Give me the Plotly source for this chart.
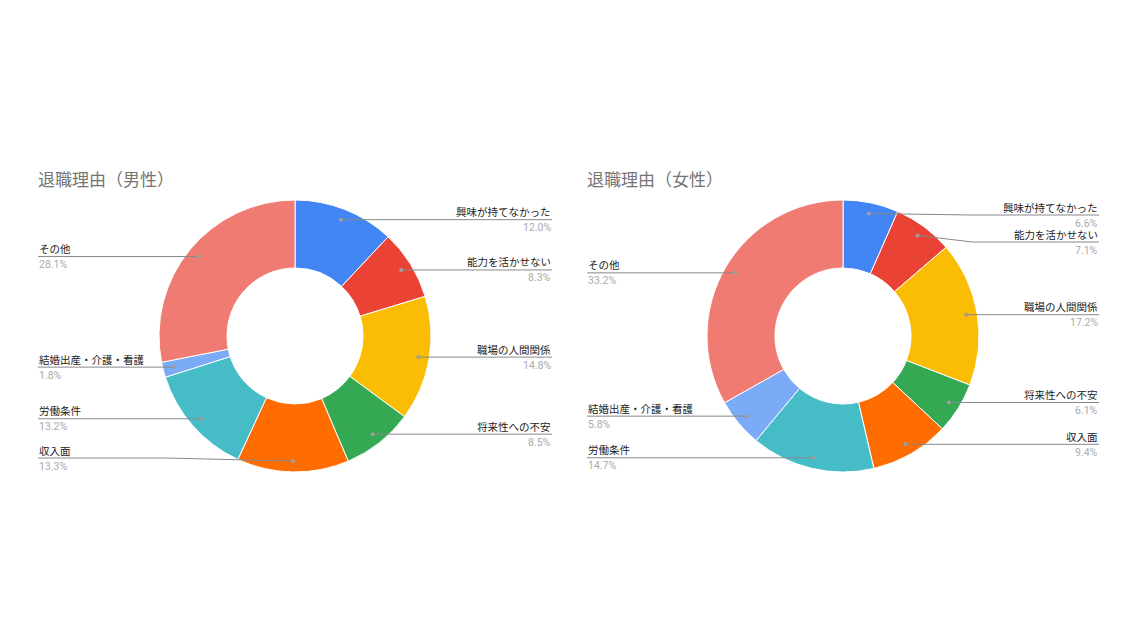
import math
import plotly.graph_objects as go

categories = ["興味が持てなかった", "能力を活かせない", "職場の人間関係", "将来性への不安",
              "収入面", "労働条件", "結婚出産・介護・看護", "その他"]
male_values = [12.0, 8.3, 14.8, 8.5, 13.3, 13.2, 1.8, 28.1]
female_values = [6.6, 7.1, 17.2, 6.1, 9.4, 14.7, 5.8, 33.2]
titles = ["退職理由（男性）", "退職理由（女性）"]
colors = ["#4285F4", "#EA4335", "#FBBC04", "#34A853", "#FF6D01", "#46BDC6", "#7BAAF7", "#F07B72"]

W, H = 1137, 640
OFF = 8  # page body margin
def px(x): return (x - OFF) / W
def py(y): return 1 - (y - OFF) / H

panels = [
    dict(values=male_values, title=titles[0], cx=295, cy=336, R=136, left=38, right=552),
    dict(values=female_values, title=titles[1], cx=843, cy=336, R=136, left=587, right=1099),
]

fig = go.Figure()
shapes, annotations = [], []
FONT = "Roboto, 'Noto Sans CJK JP', sans-serif"
SP = 27

for p in panels:
    cx, cy, R = p["cx"], p["cy"], p["R"]
    fig.add_trace(go.Pie(
        labels=categories, values=p["values"], sort=False, direction="clockwise",
        rotation=0, hole=0.5, textinfo="none", hoverinfo="label+percent",
        marker=dict(colors=colors, line=dict(color="white", width=1)),
        domain=dict(x=[px(cx - R), px(cx + R)], y=[py(cy + R), py(cy - R)]),
        showlegend=False,
    ))
    annotations.append(dict(text=p["title"], x=px(p["left"] - 1), y=py(180), xref="paper", yref="paper",
                            xanchor="left", yanchor="middle", showarrow=False, borderpad=0,
                            font=dict(size=17, color="#757575", family=FONT)))
    total = sum(p["values"])
    cum = 0
    items = []
    for name, v in zip(categories, p["values"]):
        mid = (cum + v / 2) / total * 2 * math.pi
        cum += v
        rd = 0.92 * R
        dx, dy = cx + rd * math.sin(mid), cy - rd * math.cos(mid)
        side = "right" if mid < math.pi else "left"
        ly = min(max(dy, cy - R + 15), cy + R - 14)
        items.append(dict(name=name, pct=v / total * 100, dx=dx, dy=dy, ly=ly, side=side))
    for side in ("right", "left"):
        grp = sorted([it for it in items if it["side"] == side], key=lambda it: it["ly"])
        for i in range(1, len(grp)):
            grp[i]["ly"] = max(grp[i]["ly"], grp[i - 1]["ly"] + SP)
        lim = cy + R - 14
        for i in range(len(grp) - 1, -1, -1):
            if grp[i]["ly"] > lim:
                grp[i]["ly"] = lim
            lim = grp[i]["ly"] - SP
    for it in items:
        ly = it["ly"]
        if it["side"] == "right":
            edge = p["right"]
            bend = max(cx + 0.95 * R, it["dx"]) if abs(ly - it["dy"]) > 1 else it["dx"]
            xa = "right"
        else:
            edge = p["left"]
            bend = min(cx - 0.95 * R, it["dx"]) if abs(ly - it["dy"]) > 1 else it["dx"]
            xa = "left"
        path = f"M {px(edge)} {py(ly)} L {px(bend)} {py(ly)} L {px(it['dx'])} {py(it['dy'])}"
        shapes.append(dict(type="path", xref="paper", yref="paper", path=path,
                           line=dict(color="#888888", width=1)))
        shapes.append(dict(type="circle", xref="paper", yref="paper",
                           x0=px(it["dx"] - 2), x1=px(it["dx"] + 2),
                           y0=py(it["dy"] + 2), y1=py(it["dy"] - 2),
                           fillcolor="#9e9e9e", line=dict(width=0)))
        annotations.append(dict(text=it["name"], x=px(edge), y=py(ly - 7), xref="paper", yref="paper",
                                xanchor=xa, yanchor="middle", showarrow=False, borderpad=0,
                                font=dict(size=10.5, color="#222222", family=FONT)))
        annotations.append(dict(text=f"{it['pct']:.1f}%", x=px(edge), y=py(ly + 8), xref="paper", yref="paper",
                                xanchor=xa, yanchor="middle", showarrow=False, borderpad=0,
                                font=dict(size=10.5, color="#aaaaaa", family=FONT)))

fig.update_layout(width=W, height=H, margin=dict(l=0, r=0, t=0, b=0),
                  paper_bgcolor="white", plot_bgcolor="white",
                  shapes=shapes, annotations=annotations)
fig.write_html("out.html")
